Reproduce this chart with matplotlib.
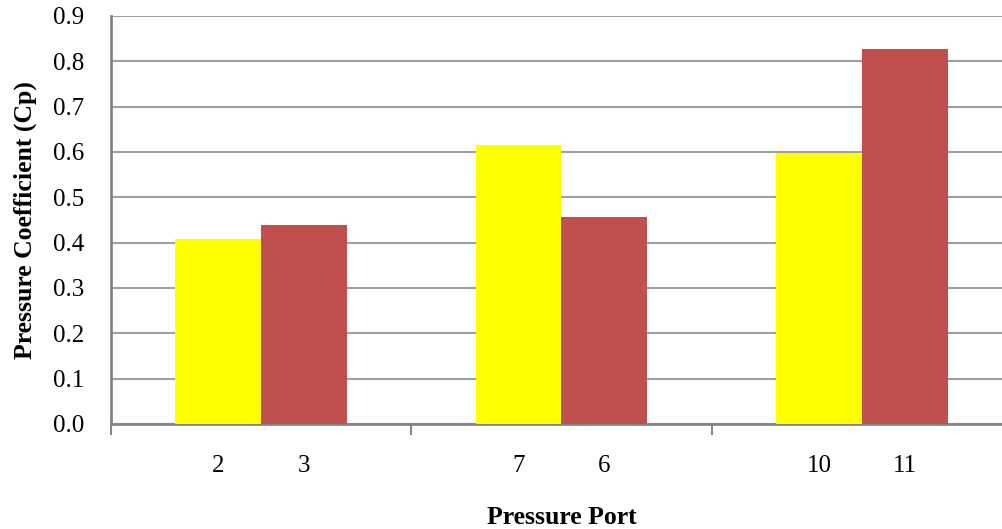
import matplotlib.pyplot as plt
import numpy as np

plt.rcParams.update({
    'font.family': ['Liberation Serif', 'DejaVu Serif'],
    'font.size': 18,
})

# Daten
port_labels = [["2", "3"], ["7", "6"], ["10", "11"]]
cp_yellow = [0.407, 0.615, 0.598]
cp_red = [0.439, 0.457, 0.827]

GELB = '#FFFF00'
ROT = '#C0504D'
GRAU = '#868686'


def plot_cp():
    fig = plt.figure(figsize=(10.03, 5.29), dpi=100)
    ax = fig.add_axes([111 / 1003, 105 / 529, 901 / 1003, 408 / 529])

    gruppen = np.arange(len(cp_yellow))
    w = 1 / 3.5
    ax.bar(gruppen - w / 2, cp_yellow, width=w, color=GELB, zorder=3)
    ax.bar(gruppen + w / 2, cp_red, width=w, color=ROT, zorder=3)

    ax.set_xlim(-0.5, len(gruppen) - 0.5)
    ax.set_ylim(0, 0.9)
    ax.set_yticks(np.arange(0, 0.91, 0.1))
    ax.set_yticklabels([f'{v:.1f}' for v in np.arange(0, 0.91, 0.1)])
    ax.yaxis.grid(True, color='#A0A0A0', linewidth=1.5, zorder=0)
    ax.set_axisbelow(True)

    # Hauptticks an den Gruppengrenzen, Beschriftung je Balken
    ax.set_xticks(np.arange(-0.5, len(gruppen), 1.0))
    ax.set_xticklabels([])
    pos = np.concatenate([[g - w / 2, g + w / 2] for g in gruppen])
    labs = [l for paar in port_labels for l in paar]
    ax.set_xticks(pos, minor=True)
    ax.set_xticklabels(labs, minor=True)
    ax.tick_params(axis='x', which='major', length=8, width=1.5, color=GRAU)
    ax.tick_params(axis='x', which='minor', length=0, pad=22, labelsize=18)
    ax.tick_params(axis='y', length=0, pad=19, labelsize=18)

    for s in ['top', 'right']:
        ax.spines[s].set_visible(False)
    for s in ['left', 'bottom']:
        ax.spines[s].set_color(GRAU)
        ax.spines[s].set_linewidth(2)

    ax.set_xlabel('Pressure Port', fontweight='bold', fontsize=18.5, labelpad=21)
    ax.set_ylabel('Pressure Coefficient (Cp)', fontweight='bold', fontsize=18.5,
                  labelpad=12)

    fig.savefig('out.png', dpi=100)
    plt.close(fig)


if __name__ == '__main__':
    plot_cp()
